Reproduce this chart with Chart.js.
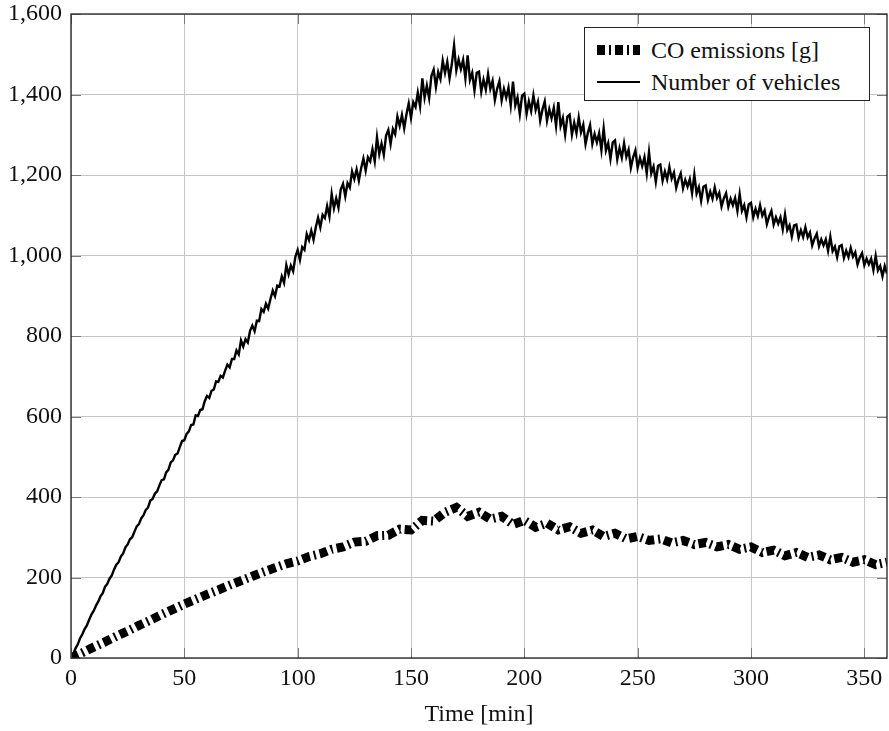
<!DOCTYPE html>
<html>
<head>
<meta charset="utf-8">
<script src="https://cdn.jsdelivr.net/npm/chart.js@4"></script>
<style>
  body { margin: 0; background: #fff; }
  #wrap { position: relative; width: 889px; height: 731px; }
  #legenda {
    position: absolute; left: 584px; top: 27px; width: 284px; height: 72px;
    border: 1px solid #222; background: #fff;
    font-family: 'Liberation Serif', serif; font-size: 24px; color: #111;
  }
  .linha { position: absolute; left: 12px; height: 32px; display: flex; align-items: center; white-space: nowrap; }
  .linha svg { margin-right: 11px; }
</style>
</head>
<body>
<div id="wrap">
  <canvas id="meuGrafico" width="889" height="731"></canvas>
  <div id="legenda">
    <div class="linha" style="top:6px">
      <svg width="43" height="12"><line x1="0" y1="6" x2="43" y2="6" stroke="#000" stroke-width="10" stroke-dasharray="8 4 2 4"/></svg>
      <span>CO emissions [g]</span>
    </div>
    <div class="linha" style="top:38px">
      <svg width="43" height="12"><line x1="0" y1="6" x2="43" y2="6" stroke="#000" stroke-width="2"/></svg>
      <span>Number of vehicles</span>
    </div>
  </div>
</div>
<script>
// eixos
const xTicks = [0, 50, 100, 150, 200, 250, 300, 350];
const yTicks = [0, 200, 400, 600, 800, 1000, 1200, 1400, 1600];

// numero de veiculos (a cada minuto)
const tempoVeiculos = [
  0, 1, 2, 3, 4, 5, 6, 7, 8, 9, 10, 11, 12, 13, 14, 15, 16, 17, 18, 19,
  20, 21, 22, 23, 24, 25, 26, 27, 28, 29, 30, 31, 32, 33, 34, 35, 36, 37, 38, 39,
  40, 41, 42, 43, 44, 45, 46, 47, 48, 49, 50, 51, 52, 53, 54, 55, 56, 57, 58, 59,
  60, 61, 62, 63, 64, 65, 66, 67, 68, 69, 70, 71, 72, 73, 74, 75, 76, 77, 78, 79,
  80, 81, 82, 83, 84, 85, 86, 87, 88, 89, 90, 91, 92, 93, 94, 95, 96, 97, 98, 99,
  100, 101, 102, 103, 104, 105, 106, 107, 108, 109, 110, 111, 112, 113, 114, 115, 116, 117, 118, 119,
  120, 121, 122, 123, 124, 125, 126, 127, 128, 129, 130, 131, 132, 133, 134, 135, 136, 137, 138, 139,
  140, 141, 142, 143, 144, 145, 146, 147, 148, 149, 150, 151, 152, 153, 154, 155, 156, 157, 158, 159,
  160, 161, 162, 163, 164, 165, 166, 167, 168, 169, 170, 171, 172, 173, 174, 175, 176, 177, 178, 179,
  180, 181, 182, 183, 184, 185, 186, 187, 188, 189, 190, 191, 192, 193, 194, 195, 196, 197, 198, 199,
  200, 201, 202, 203, 204, 205, 206, 207, 208, 209, 210, 211, 212, 213, 214, 215, 216, 217, 218, 219,
  220, 221, 222, 223, 224, 225, 226, 227, 228, 229, 230, 231, 232, 233, 234, 235, 236, 237, 238, 239,
  240, 241, 242, 243, 244, 245, 246, 247, 248, 249, 250, 251, 252, 253, 254, 255, 256, 257, 258, 259,
  260, 261, 262, 263, 264, 265, 266, 267, 268, 269, 270, 271, 272, 273, 274, 275, 276, 277, 278, 279,
  280, 281, 282, 283, 284, 285, 286, 287, 288, 289, 290, 291, 292, 293, 294, 295, 296, 297, 298, 299,
  300, 301, 302, 303, 304, 305, 306, 307, 308, 309, 310, 311, 312, 313, 314, 315, 316, 317, 318, 319,
  320, 321, 322, 323, 324, 325, 326, 327, 328, 329, 330, 331, 332, 333, 334, 335, 336, 337, 338, 339,
  340, 341, 342, 343, 344, 345, 346, 347, 348, 349, 350, 351, 352, 353, 354, 355, 356, 357, 358, 359,
  360
];
const veiculos = [
  0, 10, 24, 34, 49, 59, 72, 81, 95, 108, 117, 130, 140, 153, 161, 177, 184, 197, 205, 220,
  232, 238, 252, 260, 275, 282, 295, 300, 314, 327, 333, 347, 355, 368, 374, 391, 395, 408, 414, 429,
  442, 444, 461, 468, 486, 491, 505, 508, 524, 539, 541, 557, 563, 579, 580, 603, 601, 616, 618, 638,
  651, 646, 664, 667, 687, 686, 701, 697, 714, 729, 722, 743, 743, 764, 754, 789, 774, 792, 784, 813,
  826, 812, 838, 837, 867, 860, 880, 868, 892, 913, 899, 925, 923, 948, 932, 976, 953, 975, 961, 997,
  1014, 989, 1021, 1014, 1053, 1038, 1062, 1039, 1070, 1094, 1070, 1101, 1093, 1123, 1097, 1153, 1117, 1142, 1119, 1164,
  1178, 1147, 1180, 1169, 1209, 1190, 1214, 1186, 1217, 1241, 1211, 1244, 1234, 1264, 1234, 1294, 1252, 1278, 1250, 1298,
  1312, 1277, 1314, 1301, 1345, 1322, 1349, 1316, 1351, 1378, 1342, 1381, 1369, 1405, 1371, 1440, 1392, 1422, 1391, 1446,
  1462, 1419, 1456, 1438, 1484, 1454, 1481, 1440, 1475, 1522, 1460, 1487, 1463, 1486, 1440, 1497, 1436, 1454, 1410, 1454,
  1457, 1407, 1437, 1412, 1451, 1414, 1434, 1386, 1414, 1433, 1385, 1414, 1392, 1417, 1373, 1432, 1373, 1393, 1351, 1397,
  1402, 1352, 1383, 1359, 1398, 1362, 1382, 1335, 1363, 1383, 1335, 1364, 1341, 1367, 1322, 1381, 1322, 1342, 1300, 1345,
  1350, 1300, 1330, 1304, 1343, 1306, 1325, 1277, 1304, 1324, 1277, 1302, 1281, 1304, 1262, 1316, 1261, 1279, 1240, 1281,
  1286, 1239, 1267, 1243, 1279, 1245, 1263, 1218, 1244, 1261, 1218, 1242, 1222, 1244, 1204, 1257, 1204, 1221, 1183, 1223,
  1226, 1186, 1209, 1189, 1220, 1191, 1206, 1168, 1189, 1204, 1167, 1188, 1171, 1190, 1155, 1201, 1154, 1170, 1136, 1171,
  1174, 1138, 1159, 1141, 1169, 1143, 1156, 1122, 1142, 1155, 1121, 1141, 1125, 1143, 1111, 1153, 1111, 1125, 1095, 1127,
  1131, 1095, 1116, 1098, 1125, 1099, 1112, 1078, 1097, 1111, 1077, 1095, 1079, 1095, 1065, 1102, 1063, 1075, 1047, 1075,
  1077, 1044, 1063, 1046, 1070, 1045, 1057, 1025, 1042, 1054, 1023, 1040, 1025, 1040, 1012, 1047, 1011, 1022, 996, 1023,
  1026, 994, 1012, 996, 1019, 997, 1008, 978, 995, 1006, 976, 992, 978, 992, 964, 999, 963, 974, 948, 974,
  955
];

// emissoes de CO (a cada 5 min)
const tempoCO = [
  0, 5, 10, 15, 20, 25, 30, 35, 40, 45, 50, 55, 60, 65, 70, 75, 80, 85, 90, 95,
  100, 105, 110, 115, 120, 125, 130, 135, 140, 145, 150, 155, 160, 165, 170, 175, 180, 185, 190, 195,
  200, 205, 210, 215, 220, 225, 230, 235, 240, 245, 250, 255, 260, 265, 270, 275, 280, 285, 290, 295,
  300, 305, 310, 315, 320, 325, 330, 335, 340, 345, 350, 355, 360
];
const emissoesCO = [
  0, 13, 27, 40, 54, 67, 81, 94, 108, 121, 134, 146, 158, 169, 181, 192, 203, 214, 224, 234,
  241, 252, 259, 270, 276, 288, 290, 304, 305, 320, 318, 342, 340, 362, 374, 352, 362, 345, 352, 332,
  342, 325, 335, 318, 326, 310, 318, 302, 310, 296, 302, 292, 296, 286, 292, 282, 287, 276, 282, 270,
  276, 262, 268, 254, 262, 250, 256, 244, 250, 238, 244, 232, 238
];

const fonte = { family: "'Liberation Serif', serif", size: 24 };

// moldura e tracinhos para dentro, como no pgfplots
const moldura = {
  id: 'moldura',
  afterDatasetsDraw(chart) {
    const { ctx, chartArea: a, scales } = chart;
    ctx.save();
    ctx.strokeStyle = '#7a7a7a';
    ctx.lineWidth = 1;
    ctx.beginPath();
    xTicks.forEach(v => {
      const px = Math.round(scales.x.getPixelForValue(v)) + 0.5;
      ctx.moveTo(px, a.bottom); ctx.lineTo(px, a.bottom - 10);
      ctx.moveTo(px, a.top); ctx.lineTo(px, a.top + 10);
    });
    yTicks.forEach(v => {
      const py = Math.round(scales.y.getPixelForValue(v)) + 0.5;
      ctx.moveTo(a.left, py); ctx.lineTo(a.left + 10, py);
      ctx.moveTo(a.right, py); ctx.lineTo(a.right - 10, py);
    });
    ctx.stroke();
    ctx.strokeStyle = '#222';
    ctx.lineWidth = 1.3;
    ctx.strokeRect(a.left, a.top, a.right - a.left, a.bottom - a.top);
    ctx.restore();
  }
};

const ctx = document.getElementById('meuGrafico').getContext('2d');

new Chart(ctx, {
  type: 'line',
  data: {
    datasets: [
      {
        label: 'CO emissions [g]',
        data: tempoCO.map((t, i) => ({ x: t, y: emissoesCO[i] })),
        borderColor: '#000',
        borderWidth: 9,
        borderDash: [8, 4, 2, 4],
        borderCapStyle: 'butt',
        borderJoinStyle: 'miter',
        pointRadius: 0,
        tension: 0
      },
      {
        label: 'Number of vehicles',
        data: tempoVeiculos.map((t, i) => ({ x: t, y: veiculos[i] })),
        borderColor: '#000',
        borderWidth: 2.4,
        pointRadius: 0,
        tension: 0
      }
    ]
  },
  options: {
    responsive: false,
    animation: false,
    layout: { padding: { top: 14, right: 2, left: 0, bottom: 0 } },
    plugins: { legend: { display: false }, tooltip: { enabled: false } },
    scales: {
      x: {
        type: 'linear',
        min: 0,
        max: 360,
        afterBuildTicks: s => { s.ticks = xTicks.map(v => ({ value: v })); },
        afterFit: s => { s.height = 73; s.paddingLeft = 0; s.paddingRight = 0; },
        grid: { color: '#c6c6c6', lineWidth: 1, drawTicks: false },
        border: { display: false },
        ticks: { color: '#111', font: fonte, padding: 6, maxRotation: 0 },
        title: { display: true, text: 'Time [min]', color: '#111', font: fonte, padding: { top: 0, bottom: 2 } }
      },
      y: {
        min: 0,
        max: 1600,
        afterBuildTicks: s => { s.ticks = yTicks.map(v => ({ value: v })); },
        afterFit: s => { s.width = 71; s.paddingTop = 0; s.paddingBottom = 0; },
        grid: { color: '#c6c6c6', lineWidth: 1, drawTicks: false },
        border: { display: false },
        ticks: { color: '#111', font: fonte, padding: 9, callback: v => v.toLocaleString('en-US') }
      }
    }
  },
  plugins: [moldura]
});
</script>
</body>
</html>
